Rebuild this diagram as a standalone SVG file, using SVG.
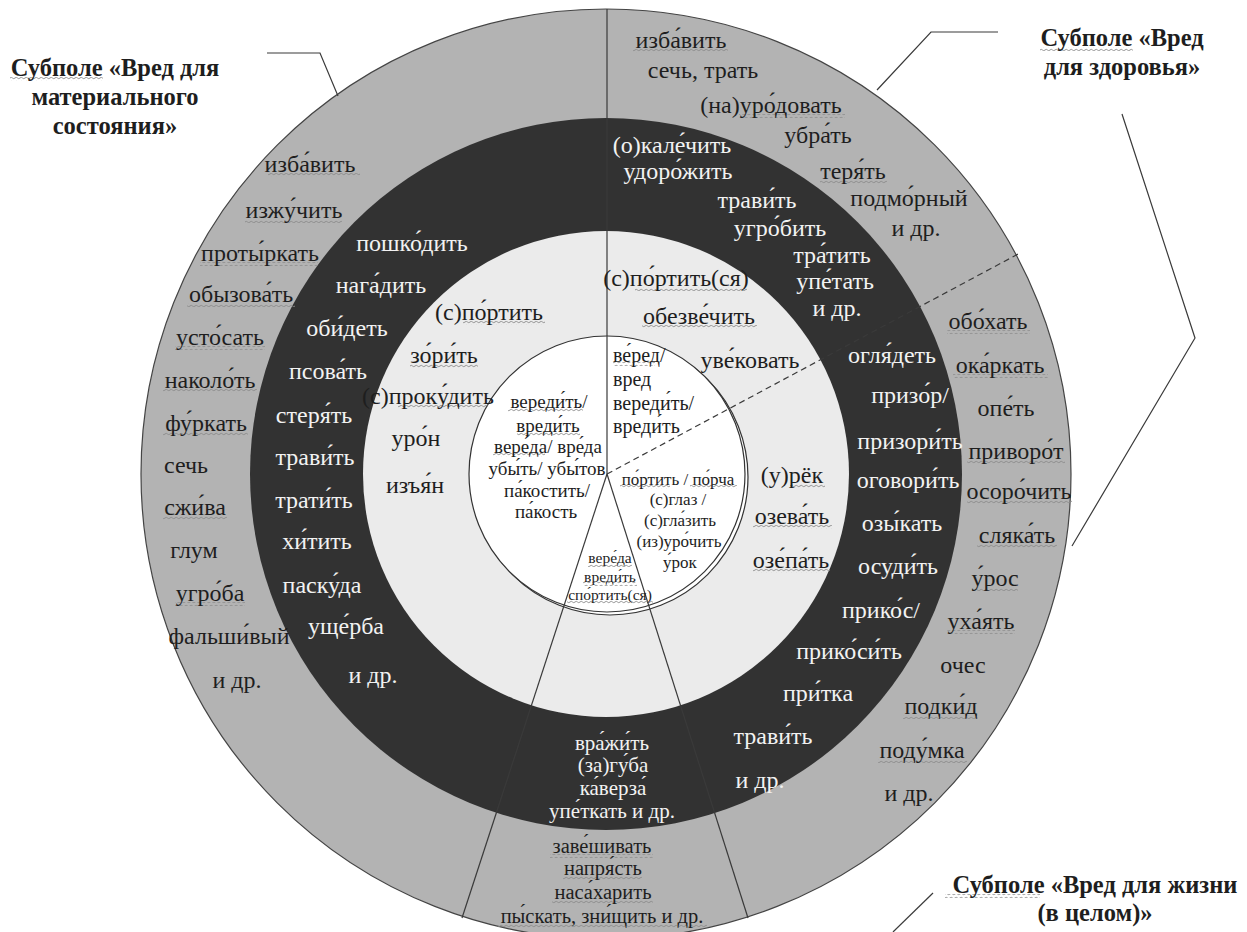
<svg xmlns="http://www.w3.org/2000/svg" width="1247" height="932" viewBox="0 0 1247 932">
<style>
.t{font-family:'Liberation Serif','Times New Roman',serif;font-size:24px;fill:#1e1e1e;text-anchor:middle}
.w{fill:#f2f2f2}
.b{font-weight:bold;font-size:24.5px}
.i19{font-size:19px}
.i20{font-size:20px}
.i17{font-size:17px}
.i15{font-size:15.5px}
.f21{font-size:21px}
.f20{font-size:20.5px}
.l{text-anchor:start}
.ln{fill:none;stroke:#3a3a3a;stroke-width:1.2}
.wv{fill:url(#wave)}
</style>
<defs>
<pattern id="wave" width="5" height="4" patternUnits="userSpaceOnUse">
<path d="M0,2 Q1.25,0.6 2.5,2 T5,2" fill="none" stroke="#8a8a8a" stroke-width="0.9"/>
</pattern>
</defs>
<rect width="1247" height="932" fill="#ffffff"/>
<g id="rings">
<circle cx="606" cy="474" r="465" fill="#b3b3b3" stroke="#444" stroke-width="1.2"/>
<circle cx="606" cy="474" r="356" fill="#323232"/>
<circle cx="606" cy="474" r="243" fill="#ebebeb"/>
<circle cx="610" cy="477" r="138" fill="#ffffff" stroke="#333" stroke-width="1.2"/>
<circle cx="607" cy="474" r="138" fill="#ffffff" stroke="#333" stroke-width="1.2"/>
</g>
<g id="connectors">
<line class="ln" x1="607" y1="474" x2="607" y2="9" stroke="#555"/>
<line class="ln" x1="607" y1="474" x2="462" y2="918"/>
<line class="ln" x1="607" y1="474" x2="748" y2="918"/>
<line class="ln" x1="607" y1="474" x2="1020" y2="253" stroke-dasharray="6 4"/>
<polyline class="ln" points="267,53 320,53 338,96" stroke="#555"/>
<polyline class="ln" points="877,90 931,32 998,32" stroke="#555"/>
<polyline class="ln" points="1122,114 1195,338 1072,546" stroke="#555"/>
<line class="ln" x1="933" y1="893" x2="893" y2="932" stroke="#555"/>
</g>
<g id="spellcheck-underlines">
<rect class="wv" x="10" y="77" width="93" height="4"/>
<rect class="wv" x="1040" y="47" width="93" height="4"/>
<rect class="wv" x="945" y="894" width="95" height="4"/>
<rect class="wv" x="268" y="173" width="92" height="4"/>
<rect class="wv" x="245" y="219" width="97" height="4"/>
<rect class="wv" x="200" y="262" width="118" height="4"/>
<rect class="wv" x="187" y="303" width="108" height="4"/>
<rect class="wv" x="175" y="346" width="90" height="4"/>
<rect class="wv" x="163" y="389" width="94" height="4"/>
<rect class="wv" x="163" y="432" width="85" height="4"/>
<rect class="wv" x="163" y="516" width="64" height="4"/>
<rect class="wv" x="175" y="602" width="70" height="4"/>
<rect class="wv" x="463" y="321" width="82" height="4"/>
<rect class="wv" x="410" y="364" width="68" height="4"/>
<rect class="wv" x="398" y="405" width="90" height="4"/>
<rect class="wv" x="508" y="408" width="75" height="4"/>
<rect class="wv" x="517" y="432" width="63" height="4"/>
<rect class="wv" x="493" y="453" width="52" height="4"/>
<rect class="wv" x="613" y="362" width="42" height="4"/>
<rect class="wv" x="620" y="485" width="50" height="4"/>
<rect class="wv" x="690" y="485" width="47" height="4"/>
<rect class="wv" x="588" y="563" width="44" height="4"/>
<rect class="wv" x="583" y="582" width="54" height="4"/>
<rect class="wv" x="567" y="600" width="86" height="4"/>
<rect class="wv" x="635" y="287" width="112" height="4"/>
<rect class="wv" x="642" y="325" width="115" height="4"/>
<rect class="wv" x="790" y="484" width="35" height="4"/>
<rect class="wv" x="753" y="525" width="79" height="4"/>
<rect class="wv" x="753" y="569" width="77" height="4"/>
<rect class="wv" x="633" y="49" width="95" height="4"/>
<rect class="wv" x="739" y="114" width="106" height="4"/>
<rect class="wv" x="820" y="180" width="67" height="4"/>
<rect class="wv" x="947" y="330" width="83" height="4"/>
<rect class="wv" x="953" y="374" width="95" height="4"/>
<rect class="wv" x="967" y="460" width="98" height="4"/>
<rect class="wv" x="967" y="500" width="105" height="4"/>
<rect class="wv" x="977" y="544" width="80" height="4"/>
<rect class="wv" x="972" y="587" width="46" height="4"/>
<rect class="wv" x="947" y="630" width="68" height="4"/>
<rect class="wv" x="903" y="715" width="75" height="4"/>
<rect class="wv" x="878" y="759" width="89" height="4"/>
<rect class="wv" x="550" y="854" width="103" height="4"/>
<rect class="wv" x="563" y="876" width="79" height="4"/>
<rect class="wv" x="552" y="900" width="101" height="4"/>
<rect class="wv" x="498" y="924" width="209" height="4"/>
</g>
<g font-family="Liberation Serif">
<g id="label-material" class="t b">
<text x="115" y="76">Субполе «Вред для</text>
<text x="115" y="105">материального</text>
<text x="115" y="134">состояния»</text>
</g>
<g id="label-health" class="t b">
<text x="1122" y="46">Субполе «Вред</text>
<text x="1122" y="75">для здоровья»</text>
</g>
<g id="label-life" class="t b">
<text x="1095" y="893">Субполе «Вред для жизни</text>
<text x="1095" y="921">(в целом)»</text>
</g>
<g id="outer-material" class="t">
<text x="310" y="172">изба&#x301;вить</text>
<text x="294" y="218">изжу&#x301;чить</text>
<text x="260" y="261">проты&#x301;ркать</text>
<text x="241" y="302">обызова&#x301;ть</text>
<text x="220" y="345">усто&#x301;сать</text>
<text x="210" y="388">наколо&#x301;ть</text>
<text x="206" y="431">фу&#x301;ркать</text>
<text x="186" y="473">сечь</text>
<text x="195" y="515">сжи&#x301;ва</text>
<text x="194" y="558">глум</text>
<text x="210" y="601">угро&#x301;ба</text>
<text x="229" y="644">фальши&#x301;вый</text>
<text x="237" y="688">и др.</text>
</g>
<g id="dark-material" class="t w">
<text x="412" y="251">пошко&#x301;дить</text>
<text x="381" y="293">нага&#x301;дить</text>
<text x="347" y="336">оби&#x301;деть</text>
<text x="328" y="379">псова&#x301;ть</text>
<text x="314" y="423">стеря&#x301;ть</text>
<text x="315" y="465">трави&#x301;ть</text>
<text x="314" y="508">трати&#x301;ть</text>
<text x="317" y="549">хи&#x301;тить</text>
<text x="322" y="593">паску&#x301;да</text>
<text x="346" y="634">уще&#x301;рба</text>
<text x="373" y="683">и др.</text>
</g>
<g id="light-material" class="t">
<text x="489" y="320">(с)по&#x301;ртить</text>
<text x="444" y="363">зо&#x301;ри&#x301;ть</text>
<text x="428" y="404">(с)проку&#x301;дить</text>
<text x="416" y="446">уро&#x301;н</text>
<text x="415" y="493">изъя&#x301;н</text>
</g>
<g id="core-material" class="t i19">
<text x="549" y="408">вереди&#x301;ть/</text>
<text x="548" y="432">вреди&#x301;ть</text>
<text x="548" y="453">вере&#x301;да/ вре&#x301;да</text>
<text x="547" y="475">убы&#x301;ть/ убы&#x301;тов</text>
<text x="547" y="497">па&#x301;костить/</text>
<text x="546" y="518">па&#x301;кость</text>
</g>
<g id="core-general" class="t i20 l">
<text x="613" y="362">ве&#x301;ред/</text>
<text x="613" y="386">вред</text>
<text x="613" y="410">вереди&#x301;ть/</text>
<text x="613" y="433">вреди&#x301;ть</text>
</g>
<g id="core-health" class="t i17">
<text x="678" y="485">по&#x301;ртить / по&#x301;рча</text>
<text x="678" y="505">(с)глаз /</text>
<text x="680" y="526">(с)гла&#x301;зить</text>
<text x="679" y="547">(из)уро&#x301;чить</text>
<text x="680" y="568">у&#x301;рок</text>
</g>
<g id="core-life" class="t i15">
<text x="610" y="563">вере&#x301;да</text>
<text x="610" y="582">вреди&#x301;ть</text>
<text x="610" y="600">спо&#x301;ртить(ся)</text>
</g>
<g id="light-health" class="t">
<text x="676" y="286">(с)по&#x301;ртить(ся)</text>
<text x="699" y="324">обезве&#x301;чить</text>
<text x="750" y="368">уве&#x301;ковать</text>
<text x="792" y="483">(у)рёк</text>
<text x="792" y="524">озева&#x301;ть</text>
<text x="791" y="568">озе&#x301;па&#x301;ть</text>
</g>
<g id="dark-health-upper" class="t w">
<text x="672" y="153">(о)кале&#x301;чить</text>
<text x="678" y="179">удоро&#x301;жить</text>
<text x="757" y="208">трави&#x301;ть</text>
<text x="780" y="236">угро&#x301;бить</text>
<text x="832" y="263">тра&#x301;тить</text>
<text x="835" y="289">упе&#x301;тать</text>
<text x="837" y="316">и др.</text>
</g>
<g id="outer-health-upper" class="t">
<text x="681" y="48">изба&#x301;вить</text>
<text x="703" y="78">сечь, трать</text>
<text x="771" y="113">(на)уро&#x301;довать</text>
<text x="818" y="143">убра&#x301;ть</text>
<text x="853" y="179">теря&#x301;ть</text>
<text x="909" y="206">подмо&#x301;рный</text>
<text x="916" y="236">и др.</text>
</g>
<g id="dark-health" class="t w">
<text x="892" y="363">огля&#x301;деть</text>
<text x="910" y="403">призо&#x301;р/</text>
<text x="910" y="449">призори&#x301;ть</text>
<text x="908" y="488">оговори&#x301;ть</text>
<text x="902" y="531">озы&#x301;кать</text>
<text x="898" y="574">осуди&#x301;ть</text>
<text x="881" y="618">прико&#x301;с/</text>
<text x="849" y="659">прико&#x301;си&#x301;ть</text>
<text x="818" y="701">при&#x301;тка</text>
<text x="773" y="744">трави&#x301;ть</text>
<text x="760" y="788">и др.</text>
</g>
<g id="outer-health" class="t">
<text x="988" y="329">обо&#x301;хать</text>
<text x="1000" y="373">ока&#x301;ркать</text>
<text x="1006" y="416">опе&#x301;ть</text>
<text x="1016" y="459">приворо&#x301;т</text>
<text x="1019" y="499">осоро&#x301;чить</text>
<text x="1017" y="543">сляка&#x301;ть</text>
<text x="995" y="586">у&#x301;рос</text>
<text x="981" y="629">уха&#x301;ять</text>
<text x="963" y="673">очес</text>
<text x="941" y="714">подки&#x301;д</text>
<text x="922" y="758">поду&#x301;мка</text>
<text x="909" y="801">и др.</text>
</g>
<g id="dark-life" class="t w f21">
<text x="612" y="750">вра&#x301;жи&#x301;ть</text>
<text x="613" y="772">(за)гу&#x301;ба</text>
<text x="613" y="795">ка&#x301;верза&#x301;</text>
<text x="612" y="818">упе&#x301;ткать и др.</text>
</g>
<g id="outer-life" class="t f20">
<text x="602" y="853">заве&#x301;шивать</text>
<text x="603" y="875">напря&#x301;сть</text>
<text x="603" y="899">наса&#x301;харить</text>
<text x="602" y="923">пы&#x301;скать, зни&#x301;щить и др.</text>
</g>
</g>
</svg>
